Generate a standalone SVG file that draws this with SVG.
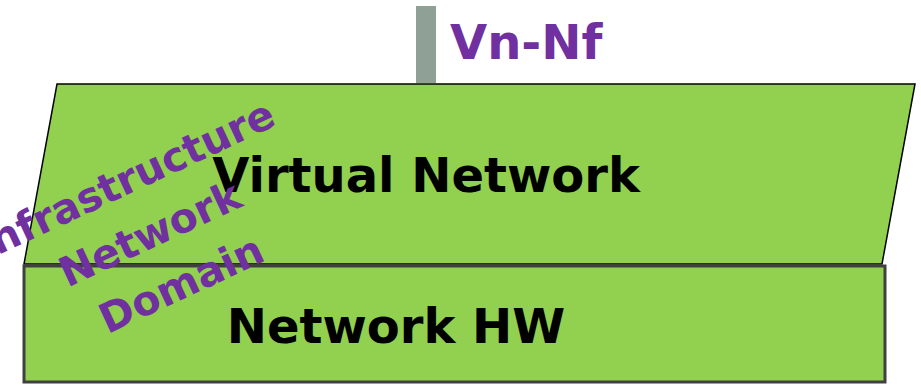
<svg xmlns="http://www.w3.org/2000/svg" width="921" height="386" viewBox="0 0 921 386">
<style>
.lbl{font-family:"DejaVu Sans",Verdana,sans-serif;font-weight:bold;font-size:48px;fill:#000}
.pur{font-family:"DejaVu Sans",Verdana,sans-serif;font-weight:bold;fill:#7030a0}
</style>
<rect width="921" height="386" fill="#fff"/>
<g id="connectors">
<rect x="416" y="6" width="20" height="77" fill="#8fa096"/>
</g>
<g id="virtual-network">
<polygon points="57,84 915,84 882,264 24,264" fill="#92d050" stroke="#000" stroke-width="1.5"/>
<text class="lbl" x="426" y="192" text-anchor="middle">Virtual Network</text>
</g>
<g id="network-hw">
<rect x="24" y="266" width="861" height="116" fill="#92d050" stroke="#404040" stroke-width="3"/>
<text class="lbl" x="396" y="343" text-anchor="middle">Network HW</text>
</g>
<g id="vn-nf">
<text class="pur" x="450" y="59" font-size="48">Vn-Nf</text>
</g>
<g id="domain-label" transform="translate(156,230) rotate(-25)">
<text class="pur" font-size="41" text-anchor="middle">
<tspan x="0" y="-44">Infrastructure</tspan>
<tspan x="0" y="15">Network</tspan>
<tspan x="0" y="74">Domain</tspan>
</text>
</g>
</svg>
